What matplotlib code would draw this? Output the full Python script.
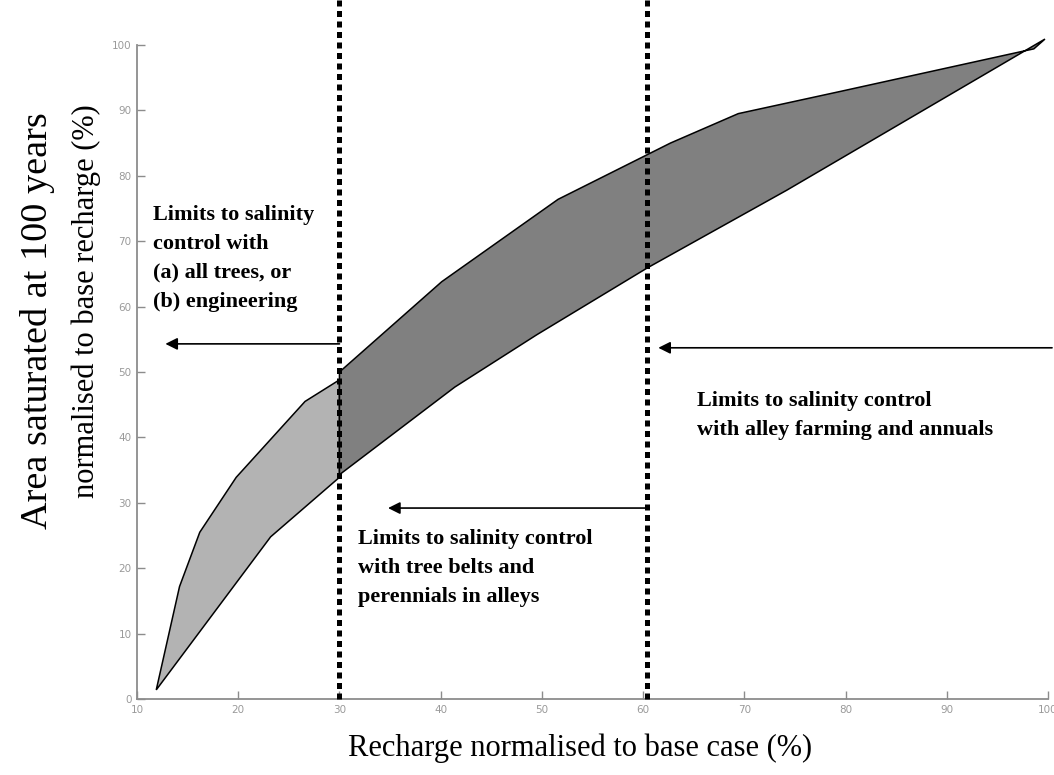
import numpy as np
from matplotlib import pyplot as plt

# boundary of the band, light part (recharge below 30 %)
light_upper_x = [11.9, 14.2, 16.2, 19.8, 26.6, 30.0]
light_upper_y = [1.4, 17.2, 25.5, 33.9, 45.5, 48.8]
light_lower_x = [11.9, 23.2, 30.0]
light_lower_y = [1.4, 24.8, 33.9]

# dark part (recharge above 30 %)
dark_upper_x = [30.0, 40.1, 51.6, 62.7, 69.4, 79.5, 97.7, 98.6]
dark_upper_y = [50.0, 63.8, 76.4, 85.0, 89.5, 92.9, 99.1, 99.4]
dark_lower_x = [30.0, 41.4, 49.5, 60.4, 74.2, 99.7]
dark_lower_y = [34.3, 47.7, 55.7, 65.9, 77.8, 100.9]

limit_lines = [30, 60.4]
x_ticks = list(range(10, 101, 10))
y_ticks = list(range(0, 101, 10))

serif = 'Liberation Serif'
grey = '#8c8c8c'

fig = plt.figure(figsize=(10.54, 7.75), dpi=100)
ax = fig.add_axes([0.13, 0.098, 0.8643, 0.844])

ax.fill(np.concatenate([light_upper_x, light_lower_x[::-1]]),
        np.concatenate([light_upper_y, light_lower_y[::-1]]),
        facecolor='#b3b3b3', edgecolor='k', lw=1.1, clip_on=False, zorder=2)
ax.fill(np.concatenate([dark_upper_x, dark_lower_x[::-1]]),
        np.concatenate([dark_upper_y, dark_lower_y[::-1]]),
        facecolor='#808080', edgecolor='k', lw=1.1, clip_on=False, zorder=2)

for xv in limit_lines:
    ax.plot([xv, xv], [0, 107.5], color='k', lw=3.6, linestyle=(0, (1.2, 0.9)),
            dash_capstyle='butt', clip_on=False, zorder=4)

arrow = dict(arrowstyle='-|>', color='k', lw=1.2, mutation_scale=18,
             shrinkA=0, shrinkB=0)
ax.annotate('', xy=(12.8, 54.3), xytext=(30, 54.3), arrowprops=arrow,
            annotation_clip=False)
ax.annotate('', xy=(61.5, 53.7), xytext=(100.4, 53.7), arrowprops=arrow,
            annotation_clip=False)
ax.annotate('', xy=(34.8, 29.2), xytext=(60.4, 29.2), arrowprops=arrow,
            annotation_clip=False)

txt = dict(family=serif, fontweight='bold', fontsize=16, linespacing=1.6)
ax.text(11.6, 67.4, 'Limits to salinity\ncontrol with\n(a) all trees, or\n(b) engineering',
        va='center', ha='left', **txt)
ax.text(65.3, 43.3, 'Limits to salinity control\nwith alley farming and annuals',
        va='center', ha='left', **txt)
ax.text(31.8, 20.0, 'Limits to salinity control\nwith tree belts and\nperennials in alleys',
        va='center', ha='left', **txt)

ax.set_xlim(10, 100)
ax.set_ylim(0, 100)
ax.set_xticks(x_ticks)
ax.set_yticks(y_ticks)
ax.tick_params(direction='in', length=6, width=1, color=grey, labelcolor='#9a9a9a',
               labelsize=7.5, pad=4)
for s in ['top', 'right']:
    ax.spines[s].set_visible(False)
for s in ['left', 'bottom']:
    ax.spines[s].set_color(grey)
    ax.spines[s].set_linewidth(1.3)

fig.text(0.55, 0.035, 'Recharge normalised to base case (%)', family=serif,
         fontsize=22, ha='center', va='center')
fig.text(0.036, 0.855, 'Area saturated at 100 years', family=serif, fontsize=27.5,
         rotation=90, ha='center', va='top')
fig.text(0.082, 0.865, 'normalised to base recharge (%)', family=serif, fontsize=22,
         rotation=90, ha='center', va='top')

fig.savefig('out.png', dpi=100)
